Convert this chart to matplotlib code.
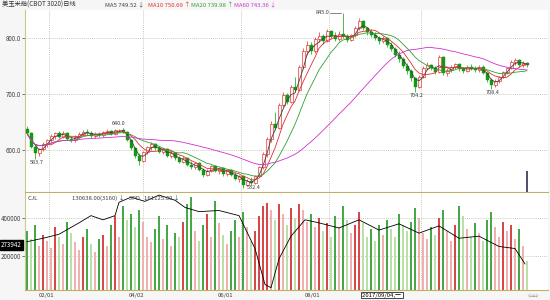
import matplotlib
matplotlib.use('Agg')
import matplotlib.pyplot as plt
import numpy as np

plt.rcParams['font.family'] = ['Noto Sans CJK SC', 'DejaVu Sans']

title = "美玉米指(CBOT 3020)日线"

# daily bars (open, high, low, close)
opens = [638, 630, 606, 594, 601, 611, 618, 625, 630, 624,
         631, 620, 617, 624, 629, 633, 630, 625, 629, 626,
         632, 634, 628, 635, 636, 632, 618, 603, 590, 580,
         596, 605, 611, 603, 597, 601, 590, 595, 585, 579,
         586, 574, 569, 576, 565, 556, 563, 571, 562, 567,
         557, 564, 556, 549, 553, 538, 545, 541, 554, 569,
         592, 620, 646, 640, 680, 698, 686, 712, 708, 748,
         776, 788, 776, 798, 804, 794, 812, 803, 798, 808,
         804, 796, 805, 818, 830, 817, 810, 806, 800, 794,
         800, 788, 780, 770, 763, 750, 741, 728, 712, 731,
         746, 752, 746, 740, 766, 737, 742, 749, 753, 744,
         741, 749, 745, 742, 749, 738, 725, 716, 723, 731,
         739, 747, 757, 760, 751, 756]
highs = [642, 632, 610, 604, 614, 620, 628, 633, 634, 634,
         632, 624, 626, 632, 636, 637, 634, 632, 633, 634,
         637, 636, 637, 638, 640, 634, 620, 606, 594, 598,
         608, 614, 613, 607, 604, 603, 598, 597, 590, 589,
         588, 580, 579, 578, 568, 566, 574, 573, 570, 569,
         566, 566, 560, 556, 555, 548, 552, 556, 572, 596,
         624, 652, 668, 684, 704, 702, 716, 730, 752, 782,
         795, 792, 802, 810, 808, 816, 815, 810, 812, 845,
         808, 808, 822, 836, 832, 820, 816, 810, 804, 803,
         802, 792, 784, 776, 766, 756, 744, 731, 734, 750,
         758, 754, 750, 770, 768, 746, 752, 756, 755, 748,
         752, 753, 750, 752, 751, 740, 728, 726, 733, 741,
         749, 760, 764, 762, 759, 758]
lows = [626, 604, 583.7, 590, 598, 606, 614, 620, 622, 621,
        618, 614, 615, 622, 626, 627, 622, 621, 623, 624,
        628, 626, 626, 632, 630, 616, 600, 586, 574, 578,
        592, 600, 600, 594, 592, 588, 586, 582, 576, 576,
        572, 566, 566, 562, 552, 553, 560, 560, 558, 554,
        554, 553, 546, 542, 532.4, 535, 538, 539, 551, 566,
        588, 615, 636, 638, 676, 682, 684, 704, 705, 744,
        770, 772, 774, 792, 790, 792, 800, 794, 795, 800,
        792, 794, 802, 815, 814, 806, 802, 796, 790, 791,
        784, 776, 766, 758, 746, 736, 724, 704.2, 710, 728,
        742, 742, 736, 738, 734, 733, 739, 745, 741, 737,
        739, 742, 739, 740, 736, 722, 708.4, 713, 720, 728,
        736, 744, 752, 748, 749, 748]
closes = [630, 606, 594, 601, 611, 618, 625, 630, 624, 631,
          620, 617, 624, 629, 633, 630, 625, 629, 626, 632,
          634, 628, 635, 636, 632, 618, 603, 590, 580, 596,
          605, 611, 603, 597, 601, 590, 595, 585, 579, 586,
          574, 569, 576, 565, 556, 563, 571, 562, 567, 557,
          564, 556, 549, 553, 538, 545, 541, 554, 569, 592,
          620, 646, 640, 680, 698, 686, 712, 708, 748, 776,
          788, 776, 798, 804, 794, 812, 803, 798, 808, 804,
          796, 805, 818, 830, 817, 810, 806, 800, 794, 800,
          788, 780, 770, 763, 750, 741, 728, 712, 731, 746,
          752, 746, 740, 766, 737, 742, 749, 753, 744, 741,
          749, 745, 742, 749, 738, 725, 716, 723, 731, 739,
          747, 757, 760, 751, 756, 752]

volumes = [330, 290, 360, 250, 310, 280, 240, 350, 300, 260,
           380, 320, 270, 230, 300, 340, 260, 220, 290, 310,
           250, 360, 410, 300, 460, 390, 420, 350, 440, 380,
           300, 270, 340, 410, 290, 360, 250, 320, 300, 380,
           470, 510, 330, 280, 360, 420, 300, 490, 370, 310,
           260, 330, 390, 300, 430, 350, 280, 330, 410, 460,
           480, 440, 390, 470, 420, 360, 450, 400, 470, 440,
           380, 420, 350, 400, 330, 370, 300, 410, 350, 460,
           390, 320, 360, 430, 370, 300, 340, 280, 360, 310,
           390, 340, 300, 420, 360, 330, 380, 450, 400, 320,
           290, 350, 310, 400, 440, 330, 280, 360, 460, 410,
           340, 300, 370, 320, 280, 390, 430, 350, 300, 380,
           330, 360, 290, 340, 250, 170]  # thousands

# black line in the lower panel
line_idx = [0, 4, 8, 13, 16, 19, 22, 23, 26, 29.5, 33, 37, 39.5, 43, 48, 53,
            57, 59.5, 61, 63, 66, 69.5, 73, 78, 83, 88, 93, 98, 103, 108,
            113, 118, 122, 124.5]
line_val = [274, 292, 313, 373, 411, 389, 411, 481, 508, 486, 519, 492, 454,
            432, 438, 411, 238, 49, 32, 184, 303, 389, 373, 346, 389, 335,
            368, 319, 357, 292, 303, 249, 238, 157]  # thousands

ma_names = ["MA5", "MA10", "MA20", "MA60"]
ma_last = ["749.52 ↓", "750.69 ↑", "739.98 ↑", "743.36 ↓"]
ma_colors = ["#404040", "#e03030", "#30a030", "#d030d0"]
# bars here are coarser than in the original, so the windows are scaled down
ma_windows = [3, 6, 11, 33]

grid_idx = [5.5, 29, 53.5, 75.5, 98.5]
date_labels = ["02/01", "04/02", "06/01", "08/01"]
date_px = [47, 137, 226, 313]
marks = [(2, "low"), (24, "high"), (54, "low"), (79, "high"), (97, "low"), (116, "low")]

o = np.array(opens, float)
h = np.array(highs, float)
l = np.array(lows, float)
c = np.array(closes, float)
v = np.array(volumes, float) * 1000
x = np.arange(len(c))
up = c >= o

W, H = 550, 300
fig = plt.figure(figsize=(5.5, 3.0), dpi=100, facecolor="#f6f6f6")
ax = fig.add_axes([25 / W, 1 - 192 / H, 523 / W, 182 / H])
axv = fig.add_axes([25 / W, 1 - 290 / H, 523 / W, 97 / H], sharex=ax)

red, green = "#e02828", "#109a10"
for a in (ax, axv):
    a.set_facecolor("white")
    for s in ("top", "right"):
        a.spines[s].set_visible(False)
    a.spines["left"].set_color("#c8c890")
    a.spines["bottom"].set_color("#c0b060")
    a.tick_params(axis="y", labelsize=4.5, length=2, width=0.5, colors="#404040", pad=1)
    a.tick_params(axis="x", bottom=False, labelbottom=False)
    for g in grid_idx:
        a.axvline(g, color="#b8b8a0", lw=0.6, ls=(0, (1, 1.5)), zorder=0)

# candles
ax.vlines(x[up], l[up], h[up], color=red, lw=0.5, zorder=2)
ax.vlines(x[~up], l[~up], h[~up], color=green, lw=0.5, zorder=2)
body = np.maximum(np.abs(c - o), 0.8)
ax.bar(x[up], body[up], bottom=np.minimum(o, c)[up], width=0.75,
       facecolor="#fff4f4", edgecolor=red, lw=0.45, zorder=3)
ax.bar(x[~up], body[~up], bottom=np.minimum(o, c)[~up], width=0.75,
       facecolor=green, edgecolor=green, lw=0.3, zorder=3)

for n, col in zip(ma_windows, ma_colors):
    m = [c[max(0, i - n + 1):i + 1].mean() for i in range(len(c))]
    ax.plot(x, m, color=col, lw=0.6, zorder=4)

for i, kind in marks:
    if kind == "high":
        if i == 79:
            ax.plot([i - 3.2, i - 0.4], [h[i], h[i]], color="#555555", lw=0.5, zorder=5)
            ax.text(i - 3.4, h[i], f"{h[i]:.1f}", fontsize=4, color="#404040",
                    ha="right", va="center", zorder=5)
        else:
            ax.text(i - 1, h[i] + 3, f"{h[i]:.1f}", fontsize=4, color="#404040",
                    ha="center", va="bottom", zorder=5)
    else:
        if i == 54:
            ax.text(i + 1, l[i], f"{l[i]:.1f}", fontsize=4, color="#404040",
                    ha="left", va="center", zorder=5)
        else:
            ax.text(i + 0.5, l[i] - 2, f"{l[i]:.1f}", fontsize=4, color="#404040",
                    ha="center", va="top", zorder=5)

# cursor marker at the last bar
ax.vlines(x[-1], 525, 563, color="#30304a", lw=1.2, zorder=5)

ax.set_xlim(-0.5, 130.25)
ax.set_ylim(525, 850)
ax.set_yticks([600, 700, 800])
ax.set_yticklabels(["600.0", "700.0", "800.0"])
for yv in (600, 700, 800):
    ax.axhline(yv, color="#b8b8a0", lw=0.6, ls=(0, (1, 1.5)), zorder=0)

# volume bars
prev = np.r_[v[0], v[:-1]]
cols = []
for u, cur, p in zip(up, v, prev):
    if u:
        cols.append("#d84848" if cur >= p else "#f0b0b0")
    else:
        cols.append("#48a848" if cur >= p else "#b8e0a8")
axv.bar(x, v, width=0.7, color=cols, edgecolor="none", zorder=2)
axv.plot(line_idx, np.array(line_val) * 1000, color="black", lw=0.6, zorder=3)
axv.set_ylim(20000, 530000)
axv.set_yticks([200000, 400000])
axv.set_yticklabels(["200000", "400000"])
for yv in (200000, 400000):
    axv.axhline(yv, color="#b8b8a0", lw=0.6, ls=(0, (1, 1.5)), zorder=0)

# header texts
ty = 1 - 5 / H
fig.text(2 / W, ty, title, fontsize=4.5, color="#303030", va="center")
for px, name, val, col in zip([105, 148, 191, 234], ma_names, ma_last, ma_colors):
    fig.text(px / W, ty, f"{name} {val}", fontsize=4.3, color=col, va="center")

vy = 1 - 198 / H
fig.text(28 / W, vy, "CJL", fontsize=4.3, color="#404040", va="center")
fig.text(72 / W, vy, "130638.00(3160) ↓   3PD   161125.00 ↓", fontsize=4.3,
         color="#404040", va="center")

fig.text(1 / W, 1 - 245 / H, "273942", fontsize=4.5, color="white", va="center",
         bbox=dict(boxstyle="square,pad=0.15", fc="black", ec="black"))

xy = 1 - 295 / H
for lab, px in zip(date_labels, date_px):
    fig.text(px / W, xy, lab, fontsize=4.3, color="#404040", ha="center", va="center")
fig.text(362 / W, xy, "2017/09/04,一 ", fontsize=4.3, color="black", va="center",
         bbox=dict(boxstyle="square,pad=0.15", fc="white", ec="black", lw=0.5))
fig.text(528 / W, xy, "⇦⇨", fontsize=5, color="#909090", va="center",
         family="DejaVu Sans")

fig.savefig("out.png", dpi=100, facecolor=fig.get_facecolor())
